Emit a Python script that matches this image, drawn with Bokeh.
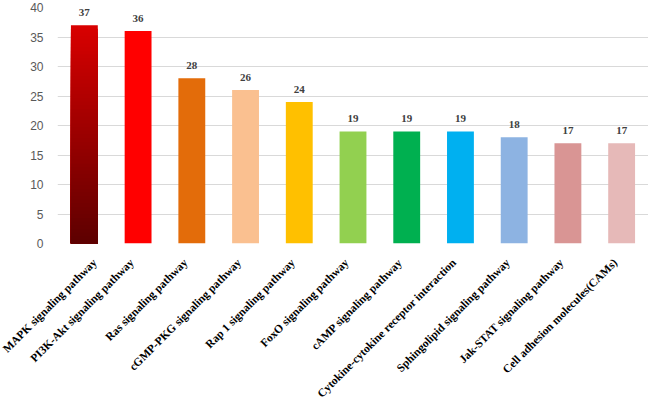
import numpy as np
from bokeh.plotting import figure
from bokeh.models import ColumnDataSource, Range1d, FixedTicker, LinearAxis
from bokeh.core.properties import value
from bokeh.embed import file_html
from bokeh.resources import INLINE

pathways = ["MAPK signaling pathway", "PI3K-Akt signaling pathway", "Ras signaling pathway",
            "cGMP-PKG signaling pathway", "Rap 1 signaling pathway", "FoxO signaling pathway",
            "cAMP signaling pathway", "Cytokine-cytokine receptor interaction",
            "Sphingolipid signaling pathway", "Jak-STAT signaling pathway",
            "Cell adhesion molecules(CAMs)"]
counts = [37, 36, 28, 26, 24, 19, 19, 19, 18, 17, 17]
colors = ["#c00000", "#ff0000", "#e36c0a", "#fac090", "#ffc000", "#92d050",
          "#00b050", "#00b0f0", "#8db3e2", "#d99594", "#e6b9b8"]
y_ticks = [0, 5, 10, 15, 20, 25, 30, 35, 40]
grad_bottom = (0x5c, 0x00, 0x00)
grad_top = (0xd8, 0x00, 0x00)

n_cat = len(pathways)
pos = list(range(n_cat))        # category slots
label_shift = -0.12             # nudge of the category labels, in category widths

p = figure(width=648, height=406, output_backend="svg", toolbar_location=None,
           x_range=Range1d(-0.5, n_cat - 0.5), y_range=Range1d(0, 40),
           min_border_left=57, min_border_right=0, min_border_top=7, min_border_bottom=159)
p.outline_line_color = None
p.background_fill_color = "white"
p.extra_x_ranges = {"lab": Range1d(-0.5 - label_shift, n_cat - 0.5 - label_shift)}

# plain bars for all but the first (gradient) bar
src = ColumnDataSource(dict(x=pos[1:], top=counts[1:], color=colors[1:]))
p.vbar(x="x", top="top", width=0.5, fill_color="color", line_color=None, source=src)

# gradient bar: overlapping bars from 0 up to each slice edge, tallest first
n = 60
edges = np.linspace(0, counts[0], n + 1)[1:][::-1]
fr = edges / counts[0]
gcols = ["#%02x%02x%02x" % tuple(int(round(b + (tp - b) * f)) for b, tp in zip(grad_bottom, grad_top)) for f in fr]
gsrc = ColumnDataSource(dict(x=[pos[0]] * n, top=edges, color=gcols))
p.vbar(x="x", top="top", width=0.5, fill_color="color", line_color=None, source=gsrc)

# value labels
lsrc = ColumnDataSource(dict(x=pos, y=counts, t=[str(c) for c in counts]))
p.text(x="x", y="y", text="t", source=lsrc, text_align="center", text_baseline="bottom",
       y_offset=-9, text_font=value("Liberation Serif"), text_font_style="bold",
       text_font_size="11px", text_color="#404040")

# category axis on a twin range so the rotated labels can be nudged
cat_axis = LinearAxis(x_range_name="lab", ticker=FixedTicker(ticks=pos),
                      major_label_overrides={i: name for i, name in zip(pos, pathways)})
cat_axis.axis_line_color = None
cat_axis.major_tick_line_color = None
cat_axis.minor_tick_line_color = None
cat_axis.major_label_orientation = np.pi / 4
cat_axis.major_label_text_font = "Liberation Serif"
cat_axis.major_label_text_font_style = "bold"
cat_axis.major_label_text_font_size = "11.5px"
cat_axis.major_label_text_color = "#000000"
cat_axis.major_label_standoff = 11
p.add_layout(cat_axis, "below")
p.xaxis[0].visible = False

p.yaxis.ticker = FixedTicker(ticks=y_ticks)
p.yaxis.axis_line_color = None
p.yaxis.major_tick_line_color = None
p.yaxis.minor_tick_line_color = None
p.yaxis.major_label_text_font = "Liberation Sans"
p.yaxis.major_label_text_font_size = "12px"
p.yaxis.major_label_text_color = "#595959"
p.yaxis.major_label_standoff = 8

p.xgrid.grid_line_color = None
p.ygrid.grid_line_color = "#d9d9d9"
p.ygrid.grid_line_width = 1

open("out.html", "w").write(file_html(p, INLINE))
